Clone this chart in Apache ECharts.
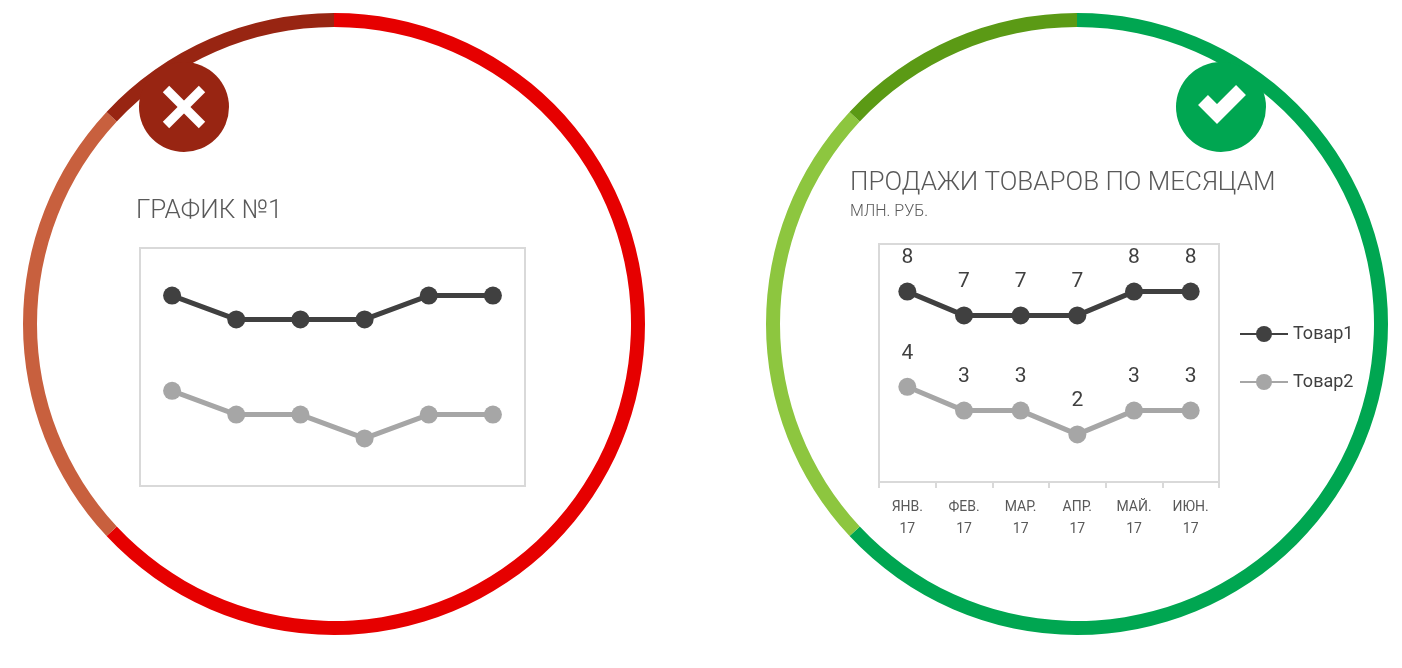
<!DOCTYPE html>
<html lang="ru">
<head>
<meta charset="UTF-8">
<title>chart</title>
<style>html,body{margin:0;padding:0;background:#fff}</style>
</head>
<body>
<div id="chart" style="width:1402px;height:668px"></div>
<script src="https://cdn.jsdelivr.net/npm/echarts@6/dist/echarts.min.js"></script>
<script>
var months = ['ЯНВ.\n17', 'ФЕВ.\n17', 'МАР.\n17', 'АПР.\n17', 'МАЙ.\n17', 'ИЮН.\n17'];
var tovar1 = [8, 7, 7, 7, 8, 8];
var tovar2 = [4, 3, 3, 2, 3, 3];
// доли кольца (градусы по часовой от 12 часов)
var ringBad = [227, 86, 47];
var ringGood = [227, 86, 47];
var badColors = ['#e60000', '#c8603e', '#982512'];
var goodColors = ['#00a651', '#8dc63f', '#5b9a15'];

var font = 'Roboto, "Noto Sans", sans-serif';
var chart = echarts.init(document.getElementById('chart'));

function ring(center, vals, colors) {
	return {
		type: 'pie', silent: true, center: center, radius: [297, 311],
		startAngle: 90, clockwise: true, label: { show: false }, z: 1,
		data: vals.map(function (v, i) { return { value: v, itemStyle: { color: colors[i] } }; })
	};
}

function line(name, data, color, xi, withLabel) {
	return {
		name: name, type: 'line', xAxisIndex: xi, yAxisIndex: xi, data: data,
		symbol: 'circle', symbolSize: 18, z: 5,
		lineStyle: { width: 5, color: color }, itemStyle: { color: color },
		label: { show: withLabel, position: 'top', distance: 14, fontSize: 21, color: '#404040', fontFamily: font }
	};
}

chart.setOption({
	animation: false,
	grid: [
		{ left: 140, top: 248, width: 385, height: 238, show: true, borderColor: '#d9d9d9', borderWidth: 2 },
		{ left: 879, top: 244, width: 340, height: 238, show: true, borderColor: '#d9d9d9', borderWidth: 2 }
	],
	xAxis: [
		{ gridIndex: 0, type: 'category', data: months, show: false },
		{ gridIndex: 1, type: 'category', data: months,
			axisLine: { lineStyle: { color: '#d9d9d9', width: 2 } },
			axisTick: { show: true, length: 6, lineStyle: { color: '#d9d9d9', width: 2 } },
			axisLabel: { color: '#595959', fontSize: 14, lineHeight: 22, margin: 14, fontFamily: font } }
	],
	yAxis: [
		{ gridIndex: 0, type: 'value', min: 0, max: 10, show: false },
		{ gridIndex: 1, type: 'value', min: 0, max: 10, show: false }
	],
	legend: {
		data: ['Товар1', 'Товар2'], orient: 'vertical', left: 1234, top: 320, itemGap: 30,
		itemWidth: 48, itemHeight: 20, textStyle: { fontSize: 18, color: '#404040', fontFamily: font }
	},
	series: [
		ring([334, 324], ringBad, badColors),
		ring([1077, 324], ringGood, goodColors),
		line('Товар1-a', tovar1, '#404040', 0, false),
		line('Товар2-a', tovar2, '#a6a6a6', 0, false),
		line('Товар1', tovar1, '#404040', 1, true),
		line('Товар2', tovar2, '#a6a6a6', 1, true)
	],
	graphic: [
		{ type: 'text', left: 136, top: 198, style: { text: 'ГРАФИК №1', fontSize: 26, fontWeight: 300, fill: '#595959', fontFamily: font } },
		{ type: 'text', left: 850, top: 170, style: { text: 'ПРОДАЖИ ТОВАРОВ ПО МЕСЯЦАМ', fontSize: 26, fontWeight: 300, fill: '#595959', fontFamily: font } },
		{ type: 'text', left: 850, top: 204, style: { text: 'МЛН. РУБ.', fontSize: 16, fontWeight: 300, fill: '#595959', fontFamily: font } },
		// значок "ошибка"
		{ type: 'circle', z: 10, shape: { cx: 184, cy: 107, r: 45 }, style: { fill: '#982512' } },
		{ type: 'line', z: 11, shape: { x1: 166, y1: 89, x2: 202, y2: 125 }, style: { stroke: '#fff', lineWidth: 9 } },
		{ type: 'line', z: 11, shape: { x1: 202, y1: 89, x2: 166, y2: 125 }, style: { stroke: '#fff', lineWidth: 9 } },
		// значок "верно"
		{ type: 'circle', z: 10, shape: { cx: 1221, cy: 107, r: 45 }, style: { fill: '#00a651' } },
		{ type: 'polyline', z: 11, shape: { points: [[1203, 100], [1217, 114], [1241, 90]] }, style: { stroke: '#fff', lineWidth: 14, fill: null } }
	]
});
</script>
</body>
</html>
